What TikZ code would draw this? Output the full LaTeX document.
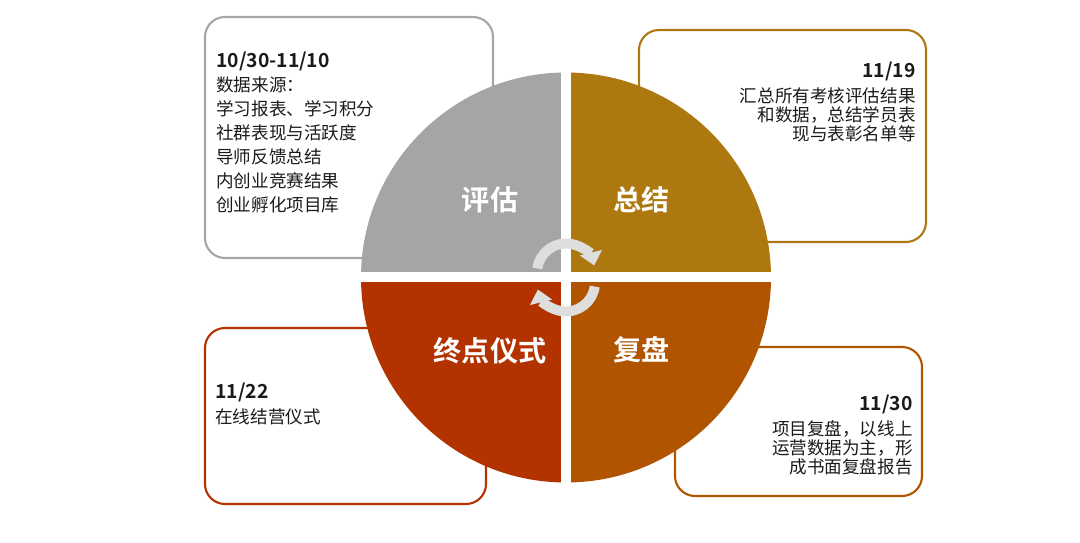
\documentclass[tikz,border=0pt]{standalone}
\usepackage{fontspec}
\setmainfont{Noto Sans CJK SC}[BoldFont={Noto Sans CJK SC Bold}]
\usetikzlibrary{arrows.meta}
\definecolor{qgray}{HTML}{A5A5A5}
\definecolor{qgold}{HTML}{AE7811}
\definecolor{qred}{HTML}{B33300}
\definecolor{qbrown}{HTML}{B05400}
\definecolor{ink}{HTML}{1A1A1A}
\newcommand\datum[1]{{\fontsize{11}{11}\selectfont\bfseries #1}}

\begin{document}
\begin{tikzpicture}[
    box/.style={draw,line width=1.2pt,rounded corners=0.4cm,inner sep=0pt},
    txt/.style={inner sep=0pt,text=ink,font=\fontsize{10}{10.8}\selectfont},
    qlab/.style={text=white,font=\fontsize{16}{16}\selectfont\bfseries},
    gap/.style={white,line width=0.2cm},
    cyc/.style={black!13,line width=5.7pt,-{Triangle[width=12.5pt,length=7.5pt]}}]
  \useasboundingbox (0,0) rectangle (21.6,10.86);
  %-------------------------------------------------- the four boxes
  \node[box,draw=qgray,minimum width=5.76cm,minimum height=4.82cm]
    (pg) at (6.98,8.11) {};
  \node[box,draw=qgold,minimum width=5.74cm,minimum height=4.24cm]
    (pz) at (15.65,8.14) {};
  \node[box,draw=qred,minimum width=5.62cm,minimum height=3.52cm]
    (pe) at (6.91,2.54) {};
  \node[box,draw=qbrown,minimum width=4.94cm,minimum height=2.98cm]
    (pf) at (15.97,2.43) {};
  %-------------------------------------------------- the circle
  \coordinate (c) at (11.32,5.31);
  \fill[qgray]  (c) -- ++(180:4.1) arc (180:90:4.1) -- cycle;
  \fill[qgold]  (c) -- ++(90:4.1) arc (90:0:4.1) -- cycle;
  \fill[qbrown] (c) -- ++(0:4.1) arc (0:-90:4.1) -- cycle;
  \fill[qred]   (c) -- ++(-90:4.1) arc (-90:-180:4.1) -- cycle;
  \draw[gap] (c) ++(-4.15,0) -- ++(8.3,0);
  \draw[gap] (c) ++(0,-4.15) -- ++(0,8.3);
  % the cycle arrows in the middle
  \draw[cyc] (c) ++(0,0.1) ++(172:0.58) arc (172:14:0.58);
  \draw[cyc] (c) ++(0,-0.1) ++(-8:0.58) arc (-8:-166:0.58);
  \node[qlab] (lg) at (9.80,6.87) {评估};
  \node[qlab] (lz) at (12.83,6.86) {总结};
  \node[qlab] (le) at (9.80,3.85) {终点仪式};
  \node[qlab] (lf) at (12.83,3.86) {复盘};
  %-------------------------------------------------- the texts
  \node[txt,align=left,anchor=north west,font=\fontsize{10}{13.6}\selectfont]
    (tg) at (4.32,9.82)
    {\datum{10/30-11/10}\\数据来源：\\学习报表、学习积分\\社群表现与活跃度\\
     导师反馈总结\\内创业竞赛结果\\创业孵化项目库};
  \node[txt,align=right,anchor=north east] (tz) at (18.32,9.63)
    {\datum{11/19}\\[3.4pt]汇总所有考核评估结果\\和数据，总结学员表\\现与表彰名单等};
  \node[txt,align=left,anchor=north west] (te) at (4.30,3.20)
    {\datum{11/22}\\[3.4pt]在线结营仪式};
  \node[txt,align=right,anchor=north east] (tf) at (18.26,2.96)
    {\datum{11/30}\\[3.4pt]项目复盘，以线上\\运营数据为主，形\\成书面复盘报告};
\end{tikzpicture}
\end{document}
